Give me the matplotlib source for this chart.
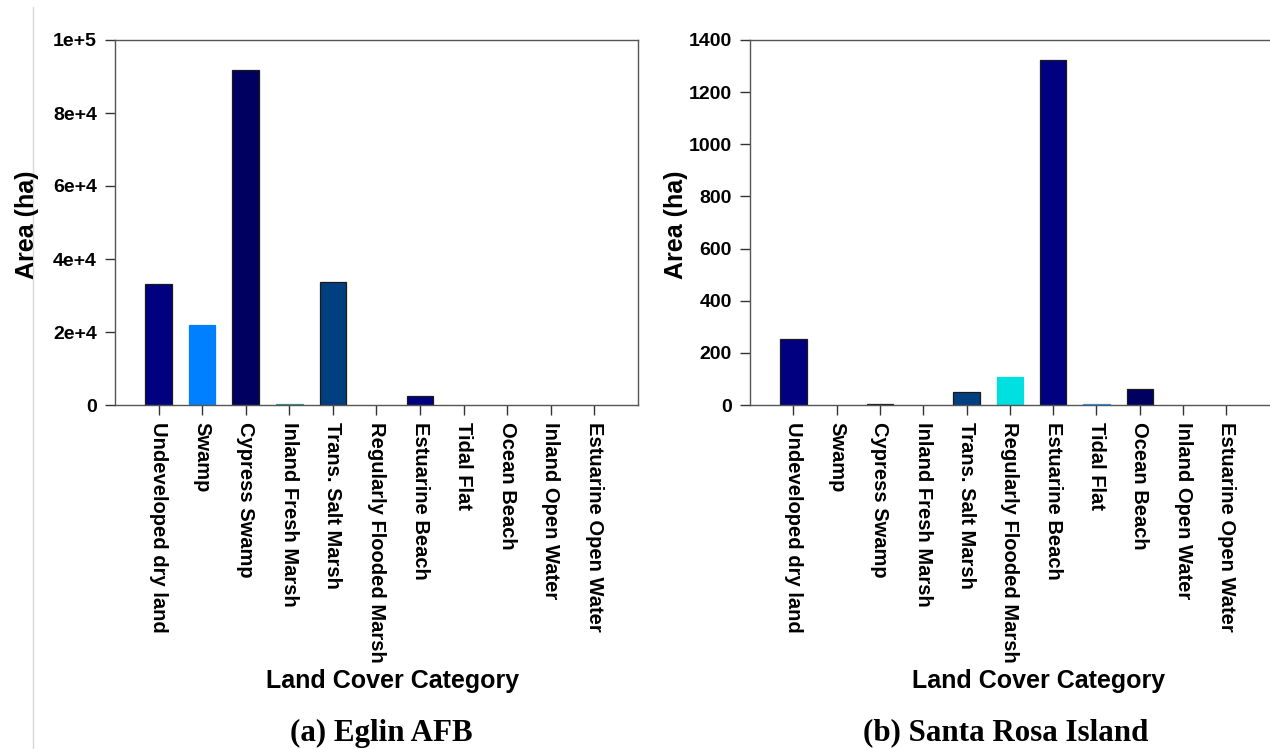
import matplotlib.pyplot as plt
import matplotlib.lines as mlines

# land cover categories (same order in both panels)
categories = ['Undeveloped dry land', 'Swamp', 'Cypress Swamp', 'Inland Fresh Marsh',
              'Trans. Salt Marsh', 'Regularly Flooded Marsh', 'Estuarine Beach',
              'Tidal Flat', 'Ocean Beach', 'Inland Open Water', 'Estuarine Open Water']

# area (ha)
eglin_area = [33200, 21900, 91800, 400, 33700, 0, 2500, 0, 0, 0, 0]
santa_rosa_area = [255, 0, 4, 0, 51, 106, 1325, 4, 61, 0, 0]

bar_colors = ['#000080', '#0080FF', '#000060', '#339999', '#004080', '#00E0E0',
              '#000080', '#3399FF', '#000060', '#000080', '#000080']
edge_colors = ['#1a1a1a', '#0080FF', '#1a1a1a', '#339999', '#1a1a1a', '#00E0E0',
               '#1a1a1a', '#3399FF', '#1a1a1a', '#1a1a1a', '#1a1a1a']

eglin_yticks = [0, 20000, 40000, 60000, 80000, 100000]
eglin_yticklabels = ['0', '2e+4', '4e+4', '6e+4', '8e+4', '1e+5']
santa_rosa_yticks = [0, 200, 400, 600, 800, 1000, 1200, 1400]

plt.rcParams['font.family'] = ['Liberation Sans', 'DejaVu Sans']

fig = plt.figure(figsize=(12.7, 7.49), dpi=100)


def draw_panel(ax, values, yticks, yticklabels, ymax, xmax):
    x = list(range(len(categories)))
    # empty categories get no outline, as in the original
    widths = [0.9 if v > 0 else 0 for v in values]
    ax.bar(x, values, width=0.61, color=bar_colors, edgecolor=edge_colors, linewidth=widths)
    ax.set_xlim(-1, xmax)
    ax.set_ylim(0, ymax)
    ax.set_xticks(x)
    ax.set_xticklabels(categories, rotation=-90, fontsize=14.5, fontweight='bold',
                       va='top', ha='center')
    ax.set_yticks(yticks)
    ax.set_yticklabels(yticklabels, fontsize=14, fontweight='bold')
    ax.tick_params(axis='both', direction='out', length=7, width=1.0, color='#333333')
    ax.tick_params(axis='x', pad=5)
    ax.tick_params(axis='y', pad=6)
    for side in ['left', 'bottom', 'top', 'right']:
        ax.spines[side].set_color('#555555')
        ax.spines[side].set_linewidth(1.0)


ax1 = fig.add_axes([115 / 1270, 1 - 405 / 749, 523 / 1270, 365 / 749])
draw_panel(ax1, eglin_area, eglin_yticks, eglin_yticklabels, 100000, 11)

# right panel runs past the slide edge, so its right border is cut off
ax2 = fig.add_axes([750 / 1270, 1 - 405 / 749, 540 / 1270, 365 / 749])
draw_panel(ax2, santa_rosa_area, santa_rosa_yticks,
           [str(v) for v in santa_rosa_yticks], 1400, 11.47)

# axis titles placed like the original slide
fig.text(27 / 1270, 1 - 225 / 749, 'Area (ha)', rotation=90, fontsize=18,
         fontweight='bold', ha='center', va='center')
fig.text(676 / 1270, 1 - 225 / 749, 'Area (ha)', rotation=90, fontsize=18,
         fontweight='bold', ha='center', va='center')
fig.text(393 / 1270, 1 - 681 / 749, 'Land Cover Category', fontsize=18,
         fontweight='bold', ha='center', va='center')
fig.text(1039 / 1270, 1 - 681 / 749, 'Land Cover Category', fontsize=18,
         fontweight='bold', ha='center', va='center')
fig.text(381 / 1270, 1 - 733 / 749, '(a) Eglin AFB', fontsize=22.3, fontweight='bold',
         family=['Liberation Serif', 'DejaVu Serif'], ha='center', va='center')
fig.text(1006 / 1270, 1 - 733 / 749, '(b) Santa Rosa Island', fontsize=22.3,
         fontweight='bold', family=['Liberation Serif', 'DejaVu Serif'],
         ha='center', va='center')

# thin gray slide border on the left
fig.add_artist(mlines.Line2D([33 / 1270, 33 / 1270], [0, 1 - 7 / 749],
                             transform=fig.transFigure, color='#d9d9d9', linewidth=1))

fig.savefig('out.png', dpi=100)
